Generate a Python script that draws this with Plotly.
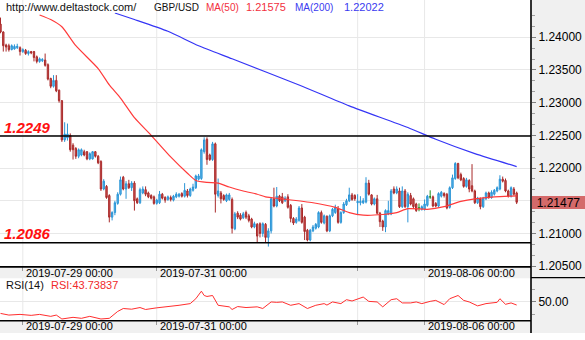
import plotly.graph_objects as go

W, H = 585, 340
AX_X = 531          # left edge of the price-scale panel (px)
FONT = "Liberation Sans, Arial, sans-serif"

# ---------------- hourly GBP/USD candles ----------------
open_ = [
    1.2420, 1.2408, 1.2388, 1.2387, 1.2381, 1.2382, 1.2384, 1.2384, 1.2378, 1.2380,
    1.2375, 1.2378, 1.2378, 1.2370, 1.2363, 1.2364, 1.2365, 1.2358, 1.2337, 1.2325,
    1.2334, 1.2319, 1.2303, 1.2243, 1.2246, 1.2250, 1.2235, 1.2230, 1.2218, 1.2220,
    1.2225, 1.2225, 1.2214, 1.2214, 1.2225, 1.2218, 1.2210, 1.2168, 1.2172, 1.2158,
    1.2125, 1.2132, 1.2146, 1.2160, 1.2186, 1.2168, 1.2176, 1.2170, 1.2177, 1.2153,
    1.2147, 1.2162, 1.2167, 1.2162, 1.2158, 1.2156, 1.2146, 1.2147, 1.2160, 1.2155,
    1.2152, 1.2155, 1.2151, 1.2156, 1.2157, 1.2161, 1.2157, 1.2165, 1.2158, 1.2166,
    1.2170, 1.2183, 1.2184, 1.2225, 1.2244, 1.2220, 1.2213, 1.2237, 1.2158, 1.2162,
    1.2158, 1.2150, 1.2152, 1.2152, 1.2107, 1.2131, 1.2128, 1.2124, 1.2132, 1.2127,
    1.2122, 1.2110, 1.2114, 1.2115, 1.2100, 1.2114, 1.2094, 1.2104, 1.2153, 1.2142,
    1.2157, 1.2156, 1.2150, 1.2156, 1.2143, 1.2123, 1.2117, 1.2120, 1.2139, 1.2125,
    1.2105, 1.2090, 1.2104, 1.2108, 1.2110, 1.2132, 1.2116, 1.2126, 1.2104, 1.2127,
    1.2132, 1.2138, 1.2117, 1.2132, 1.2144, 1.2150, 1.2159, 1.2158, 1.2147, 1.2147,
    1.2147, 1.2148, 1.2177, 1.2159, 1.2145, 1.2153, 1.2131, 1.2119, 1.2110, 1.2130,
    1.2130, 1.2168, 1.2162, 1.2165, 1.2141, 1.2165, 1.2141, 1.2158, 1.2153, 1.2145,
    1.2139, 1.2137, 1.2137, 1.2143, 1.2156, 1.2156, 1.2146, 1.2142, 1.2157, 1.2161,
    1.2160, 1.2140, 1.2170, 1.2184, 1.2207, 1.2190, 1.2184, 1.2172, 1.2181, 1.2173,
    1.2165, 1.2147, 1.2153, 1.2141, 1.2153, 1.2162, 1.2155, 1.2160, 1.2165, 1.2168,
    1.2183, 1.2181, 1.2165, 1.2157, 1.2168, 1.2162,
]
high = [
    1.2430, 1.2409, 1.2390, 1.2390, 1.2389, 1.2389, 1.2390, 1.2386, 1.2383, 1.2382,
    1.2380, 1.2379, 1.2379, 1.2372, 1.2369, 1.2368, 1.2375, 1.2360, 1.2338, 1.2342,
    1.2342, 1.2320, 1.2304, 1.2270, 1.2268, 1.2253, 1.2238, 1.2232, 1.2230, 1.2230,
    1.2228, 1.2226, 1.2224, 1.2226, 1.2226, 1.2220, 1.2212, 1.2183, 1.2174, 1.2160,
    1.2134, 1.2150, 1.2163, 1.2187, 1.2188, 1.2180, 1.2182, 1.2180, 1.2180, 1.2155,
    1.2170, 1.2172, 1.2172, 1.2164, 1.2160, 1.2158, 1.2153, 1.2165, 1.2162, 1.2157,
    1.2158, 1.2158, 1.2159, 1.2163, 1.2162, 1.2163, 1.2177, 1.2168, 1.2170, 1.2176,
    1.2190, 1.2191, 1.2230, 1.2247, 1.2247, 1.2222, 1.2240, 1.2239, 1.2184, 1.2165,
    1.2160, 1.2161, 1.2162, 1.2155, 1.2133, 1.2134, 1.2131, 1.2133, 1.2135, 1.2130,
    1.2124, 1.2118, 1.2116, 1.2117, 1.2117, 1.2116, 1.2108, 1.2155, 1.2170, 1.2171,
    1.2159, 1.2162, 1.2157, 1.2160, 1.2145, 1.2125, 1.2125, 1.2142, 1.2145, 1.2127,
    1.2107, 1.2107, 1.2113, 1.2116, 1.2134, 1.2135, 1.2129, 1.2128, 1.2129, 1.2139,
    1.2144, 1.2142, 1.2134, 1.2148, 1.2153, 1.2170, 1.2162, 1.2160, 1.2160, 1.2157,
    1.2154, 1.2186, 1.2182, 1.2160, 1.2155, 1.2159, 1.2133, 1.2121, 1.2137, 1.2150,
    1.2168, 1.2172, 1.2172, 1.2170, 1.2172, 1.2168, 1.2163, 1.2162, 1.2155, 1.2147,
    1.2146, 1.2143, 1.2152, 1.2159, 1.2166, 1.2158, 1.2148, 1.2163, 1.2165, 1.2163,
    1.2162, 1.2172, 1.2190, 1.2209, 1.2208, 1.2193, 1.2186, 1.2185, 1.2183, 1.2206,
    1.2167, 1.2156, 1.2155, 1.2156, 1.2164, 1.2164, 1.2166, 1.2168, 1.2172, 1.2189,
    1.2187, 1.2184, 1.2167, 1.2172, 1.2171, 1.2164,
]
low = [
    1.2406, 1.2378, 1.2378, 1.2378, 1.2380, 1.2381, 1.2382, 1.2372, 1.2376, 1.2373,
    1.2372, 1.2374, 1.2363, 1.2360, 1.2361, 1.2362, 1.2355, 1.2334, 1.2322, 1.2323,
    1.2316, 1.2300, 1.2240, 1.2240, 1.2242, 1.2225, 1.2213, 1.2214, 1.2215, 1.2218,
    1.2218, 1.2212, 1.2212, 1.2213, 1.2216, 1.2206, 1.2165, 1.2166, 1.2153, 1.2117,
    1.2120, 1.2128, 1.2144, 1.2158, 1.2166, 1.2153, 1.2168, 1.2165, 1.2135, 1.2145,
    1.2145, 1.2160, 1.2157, 1.2154, 1.2152, 1.2144, 1.2144, 1.2145, 1.2152, 1.2147,
    1.2150, 1.2149, 1.2149, 1.2154, 1.2155, 1.2155, 1.2155, 1.2155, 1.2156, 1.2164,
    1.2168, 1.2181, 1.2182, 1.2222, 1.2205, 1.2211, 1.2211, 1.2132, 1.2155, 1.2146,
    1.2150, 1.2148, 1.2150, 1.2100, 1.2105, 1.2122, 1.2120, 1.2122, 1.2122, 1.2117,
    1.2108, 1.2108, 1.2087, 1.2094, 1.2095, 1.2086, 1.2080, 1.2100, 1.2140, 1.2140,
    1.2148, 1.2145, 1.2148, 1.2138, 1.2117, 1.2113, 1.2115, 1.2118, 1.2115, 1.2090,
    1.2088, 1.2088, 1.2102, 1.2106, 1.2108, 1.2115, 1.2114, 1.2102, 1.2102, 1.2125,
    1.2130, 1.2115, 1.2115, 1.2130, 1.2142, 1.2148, 1.2150, 1.2150, 1.2128, 1.2143,
    1.2145, 1.2146, 1.2158, 1.2143, 1.2143, 1.2129, 1.2110, 1.2104, 1.2102, 1.2128,
    1.2128, 1.2160, 1.2160, 1.2139, 1.2139, 1.2139, 1.2117, 1.2143, 1.2138, 1.2133,
    1.2134, 1.2135, 1.2135, 1.2141, 1.2153, 1.2140, 1.2140, 1.2140, 1.2155, 1.2155,
    1.2137, 1.2138, 1.2168, 1.2182, 1.2183, 1.2180, 1.2170, 1.2170, 1.2163, 1.2163,
    1.2145, 1.2145, 1.2137, 1.2139, 1.2151, 1.2153, 1.2153, 1.2158, 1.2163, 1.2166,
    1.2178, 1.2163, 1.2155, 1.2155, 1.2158, 1.2145,
]
close = [
    1.2408, 1.2387, 1.2385, 1.2381, 1.2387, 1.2386, 1.2386, 1.2378, 1.2381, 1.2375,
    1.2378, 1.2376, 1.2369, 1.2363, 1.2367, 1.2366, 1.2357, 1.2336, 1.2325, 1.2334,
    1.2318, 1.2303, 1.2243, 1.2252, 1.2252, 1.2228, 1.2228, 1.2218, 1.2228, 1.2228,
    1.2220, 1.2214, 1.2222, 1.2225, 1.2218, 1.2208, 1.2168, 1.2180, 1.2155, 1.2125,
    1.2132, 1.2147, 1.2160, 1.2182, 1.2168, 1.2176, 1.2170, 1.2177, 1.2150, 1.2147,
    1.2167, 1.2168, 1.2160, 1.2156, 1.2154, 1.2146, 1.2151, 1.2160, 1.2154, 1.2151,
    1.2156, 1.2152, 1.2157, 1.2160, 1.2160, 1.2157, 1.2166, 1.2158, 1.2168, 1.2171,
    1.2188, 1.2188, 1.2228, 1.2243, 1.2213, 1.2213, 1.2237, 1.2160, 1.2165, 1.2153,
    1.2152, 1.2159, 1.2159, 1.2108, 1.2130, 1.2125, 1.2122, 1.2130, 1.2125, 1.2120,
    1.2110, 1.2115, 1.2096, 1.2100, 1.2115, 1.2094, 1.2104, 1.2153, 1.2142, 1.2157,
    1.2150, 1.2147, 1.2154, 1.2140, 1.2123, 1.2116, 1.2122, 1.2139, 1.2117, 1.2103,
    1.2090, 1.2105, 1.2110, 1.2114, 1.2132, 1.2117, 1.2127, 1.2104, 1.2127, 1.2137,
    1.2140, 1.2117, 1.2132, 1.2145, 1.2150, 1.2159, 1.2152, 1.2153, 1.2149, 1.2149,
    1.2150, 1.2177, 1.2160, 1.2145, 1.2153, 1.2131, 1.2118, 1.2110, 1.2135, 1.2135,
    1.2165, 1.2162, 1.2168, 1.2141, 1.2165, 1.2141, 1.2160, 1.2145, 1.2141, 1.2135,
    1.2139, 1.2141, 1.2145, 1.2157, 1.2156, 1.2142, 1.2142, 1.2161, 1.2163, 1.2158,
    1.2139, 1.2170, 1.2185, 1.2207, 1.2185, 1.2182, 1.2172, 1.2182, 1.2168, 1.2165,
    1.2147, 1.2154, 1.2141, 1.2154, 1.2162, 1.2155, 1.2163, 1.2166, 1.2170, 1.2183,
    1.2180, 1.2165, 1.2157, 1.2170, 1.2160, 1.21477,
]

# ---------------- moving averages (bar index, value) ----------------
ma50_idx = [14, 18, 22, 27, 35, 39, 43, 48, 54, 61, 67, 70, 74, 78, 82, 87,
            92, 95, 101, 112, 120, 125, 130, 137, 142, 146, 153, 159, 165, 170, 177, 185]
ma50_val = [1.2434, 1.2427, 1.2416, 1.2387, 1.2352, 1.2327, 1.2307, 1.2277,
            1.2250, 1.2217, 1.2192, 1.2181, 1.2178, 1.2177, 1.2171, 1.2165,
            1.2160, 1.2156, 1.2153, 1.2147, 1.2140, 1.2132, 1.2128, 1.2129,
            1.2132, 1.2138, 1.2137, 1.2141, 1.2149, 1.2153, 1.2156, 1.21575]
ma200_idx = [41, 48, 60, 71, 83, 107, 125, 146, 156, 170, 185]
ma200_val = [1.2437, 1.2427, 1.2409, 1.2387, 1.2367, 1.2327, 1.2295, 1.2262,
             1.2244, 1.2222, 1.22022]

# ---------------- RSI(14) ----------------
rsi_idx = [0, 3, 7, 11, 14, 18, 20, 22, 26, 29, 32, 36, 39, 42, 44, 47, 50, 52,
           56, 59, 62, 64, 68, 70, 72, 73, 74, 76, 78, 79, 82, 83, 85, 88, 92, 94,
           97, 99, 101, 104, 107, 110, 113, 116, 117, 119, 122, 124, 126, 130, 132,
           135, 137, 140, 142, 144, 147, 149, 151, 154, 156, 159, 161, 164, 166,
           168, 171, 174, 178, 179, 181, 183, 185]
rsi_val = [26.6, 23.2, 24.6, 22.6, 24.6, 20.6, 23.2, 15.2, 18.6, 16.6, 20.6, 15.2,
           16.6, 30.6, 36.6, 35.2, 38.6, 34.6, 38.0, 39.6, 41.2, 43.2, 46.6, 56.6,
           72.0, 63.2, 61.2, 63.2, 43.2, 42.6, 40.0, 34.6, 40.6, 38.6, 40.0, 36.6,
           50.0, 49.2, 50.0, 43.2, 46.6, 36.6, 43.2, 46.6, 43.6, 50.0, 46.6, 54.6,
           52.0, 60.0, 51.2, 50.0, 40.0, 54.6, 56.6, 48.0, 48.0, 50.0, 46.6, 51.2,
           53.2, 44.6, 56.6, 63.2, 53.2, 50.0, 42.0, 46.6, 49.2, 56.6, 45.2, 48.0,
           43.73837]

# ---------------- levels, labels, ticks ----------------
symbol = "GBP/USD"
site = "http://www.deltastock.com/"
level_hi = 1.2249
level_lo = 1.2086
last_price = 1.21477
ma50_last = 1.21575
ma200_last = 1.22022
rsi_last = 43.73837
price_ticks = [1.205, 1.210, 1.215, 1.220, 1.225, 1.230, 1.235, 1.240]
date_idx = [8, 56, 152]
date_labels = ["2019-07-29 00:00", "2019-07-31 00:00", "2019-08-06 00:00"]
grid_idx = [8, 56, 128, 152]


def py(y):
    """pixel row -> paper fraction"""
    return 1 - y / H


def pxf(x):
    """pixel column -> paper fraction"""
    return x / W


n = len(close)
idx = list(range(n))
body_idx = [i for i in idx if open_[i] != close[i]]
doji_idx = [i for i in idx if open_[i] == close[i]]

fig = go.Figure()

fig.add_trace(go.Candlestick(
    x=body_idx,
    open=[open_[i] for i in body_idx], high=[high[i] for i in body_idx],
    low=[low[i] for i in body_idx], close=[close[i] for i in body_idx],
    increasing=dict(line=dict(color="#2b95d6", width=1), fillcolor="#5fb6ea"),
    decreasing=dict(line=dict(color="#a92a2a", width=1), fillcolor="#cf5656"),
    whiskerwidth=0, xaxis="x", yaxis="y", hoverinfo="skip",
))
fig.add_trace(go.Candlestick(
    x=doji_idx,
    open=[open_[i] for i in doji_idx], high=[high[i] for i in doji_idx],
    low=[low[i] for i in doji_idx], close=[close[i] for i in doji_idx],
    increasing=dict(line=dict(color="#1a8c1a", width=1), fillcolor="#1a8c1a"),
    decreasing=dict(line=dict(color="#1a8c1a", width=1), fillcolor="#1a8c1a"),
    whiskerwidth=0, xaxis="x", yaxis="y", hoverinfo="skip",
))
fig.add_trace(go.Scatter(x=ma50_idx, y=ma50_val, mode="lines",
                         line=dict(color="#ff3b3b", width=1.2, shape="spline", smoothing=0.6),
                         xaxis="x", yaxis="y", hoverinfo="skip"))
fig.add_trace(go.Scatter(x=ma200_idx, y=ma200_val, mode="lines",
                         line=dict(color="#3535f5", width=1.2, shape="spline", smoothing=0.6),
                         xaxis="x", yaxis="y", hoverinfo="skip"))
fig.add_trace(go.Scatter(x=rsi_idx, y=rsi_val, mode="lines",
                         line=dict(color="#ff2e2e", width=1),
                         xaxis="x2", yaxis="y2", hoverinfo="skip"))

x_range = [-0.18, 190.14]
minor_ticks = [round(1.205 + k * 0.005 / 3, 6) for k in range(0, 25) if k % 3]

fig.update_layout(
    width=W, height=H, autosize=False,
    margin=dict(l=0, r=0, t=0, b=0, pad=0),
    paper_bgcolor="white", plot_bgcolor="white",
    showlegend=False, hovermode=False,
    font=dict(family=FONT, size=12, color="#000000"),
    xaxis=dict(domain=[0, pxf(AX_X)], range=x_range, anchor="y",
               showgrid=False, zeroline=False, showline=False,
               showticklabels=False, tickvals=grid_idx, ticks="outside",
               ticklen=4, tickcolor="#9a9a9a", rangeslider=dict(visible=False),
               fixedrange=True),
    yaxis=dict(domain=[py(272), py(13)], range=[1.20497, 1.24374], anchor="x",
               side="right", tickvals=price_ticks,
               ticktext=[f"{v:.5f}" for v in price_ticks],
               ticks="outside", ticklen=4, tickcolor="#808080",
               showgrid=True, gridcolor="#e8e8e8", gridwidth=1,
               zeroline=False, showline=False,
               tickfont=dict(size=12, color="#000000"),
               minor=dict(tickvals=minor_ticks, ticks="outside", ticklen=3,
                          tickcolor="#a0a0a0", showgrid=False),
               fixedrange=True),
    xaxis2=dict(domain=[0, pxf(AX_X)], range=x_range, anchor="y2", matches="x",
                showgrid=False, zeroline=False, showline=False,
                showticklabels=False, tickvals=grid_idx, ticks="outside",
                ticklen=4, tickcolor="#9a9a9a", rangeslider=dict(visible=False),
                fixedrange=True),
    yaxis2=dict(domain=[py(327), py(284)], range=[12.6, 98.6], anchor="x2",
                side="right", tickvals=[50], ticktext=["50.00"],
                ticks="outside", ticklen=4, tickcolor="#808080",
                showgrid=True, gridcolor="#e8e8e8", zeroline=False, showline=False,
                tickfont=dict(size=12, color="#000000"),
                minor=dict(tickvals=[25, 75], ticks="outside", ticklen=3,
                           tickcolor="#a0a0a0", showgrid=False),
                fixedrange=True),
)

shapes = []
# grey panels: price scale column and the two date bands
shapes.append(dict(type="rect", xref="paper", yref="paper", x0=pxf(AX_X), x1=1,
                   y0=0, y1=1, fillcolor="#f0f0f0", line=dict(width=0), layer="below"))
for top, bot in [(272, 284), (327, 340)]:
    shapes.append(dict(type="rect", xref="paper", yref="paper", x0=0, x1=pxf(AX_X),
                       y0=py(bot), y1=py(top), fillcolor="#f0f0f0",
                       line=dict(width=0), layer="below"))
# vertical day grid lines in both panels
for g in grid_idx:
    shapes.append(dict(type="line", xref="x", yref="paper", x0=g, x1=g,
                       y0=py(272), y1=1, line=dict(color="#e8e8e8", width=1), layer="below"))
    shapes.append(dict(type="line", xref="x", yref="paper", x0=g, x1=g,
                       y0=py(327), y1=py(284), line=dict(color="#e8e8e8", width=1), layer="below"))
# support / resistance levels
for lv in (level_hi, level_lo):
    shapes.append(dict(type="line", xref="paper", yref="y", x0=0, x1=pxf(AX_X),
                       y0=lv, y1=lv, line=dict(color="#000000", width=1.5)))
# panel borders
shapes.append(dict(type="line", xref="paper", yref="paper", x0=0, x1=pxf(AX_X),
                   y0=py(272.5), y1=py(272.5), line=dict(color="#000000", width=1.6)))
shapes.append(dict(type="line", xref="paper", yref="paper", x0=0, x1=pxf(AX_X),
                   y0=py(327.5), y1=py(327.5), line=dict(color="#000000", width=1.6)))
shapes.append(dict(type="line", xref="paper", yref="paper", x0=pxf(AX_X), x1=pxf(AX_X),
                   y0=0, y1=1, line=dict(color="#000000", width=1.6)))
shapes.append(dict(type="line", xref="paper", yref="paper", x0=pxf(AX_X), x1=1,
                   y0=py(283.5), y1=py(283.5), line=dict(color="#000000", width=1.2)))
fig.update_layout(shapes=shapes)

ann = []


def label(text, x, y, color="#111111", size=11, **kw):
    ann.append(dict(text=text, xref="paper", yref="paper", x=pxf(x), y=py(y),
                    xanchor="left", yanchor="middle", showarrow=False,
                    font=dict(family=FONT, size=size, color=color), **kw))


# header row
label(site, 4, 7.5)
label(symbol, 152, 7.5, size=10)
label("MA(50)", 204, 7.5, color="#f23040", size=10)
label(f"{ma50_last:.5f}", 244, 7.5, color="#f23040")
label("MA(200)", 293, 7.5, color="#3a3af0", size=10)
label(f"{ma200_last:.5f}", 342, 7.5, color="#3a3af0")
# level captions
for lv in (level_hi, level_lo):
    ann.append(dict(text=f"<b><i>{lv:.4f}</i></b>", xref="paper", yref="y",
                    x=pxf(2), y=lv, yshift=9, xanchor="left", yanchor="middle",
                    showarrow=False,
                    font=dict(family=FONT, size=15, color="#ff1010")))
# RSI caption
label("RSI(14)", 4, 290.5)
label(f"RSI:{rsi_last:.5f}", 49, 290.5, color="#f02a2a")
# date labels in both bands
for d, t in zip(date_idx, date_labels):
    for yy in (278.5, 333):
        ann.append(dict(text=t, xref="x", yref="paper", x=d, y=py(yy), xshift=1,
                        xanchor="left", yanchor="middle", showarrow=False,
                        font=dict(family=FONT, size=11, color="#000000")))
# last-price tag on the scale
ann.append(dict(text=f"{last_price:.5f}", xref="paper", yref="y", x=pxf(AX_X + 1),
                y=last_price, xanchor="left", yanchor="middle", showarrow=False,
                bgcolor="#d46a6a", bordercolor="#b85050", borderwidth=0, borderpad=0,
                width=53, height=13,
                font=dict(family=FONT, size=12, color="#000000")))
fig.update_layout(annotations=ann)

fig.write_html("out.html")
